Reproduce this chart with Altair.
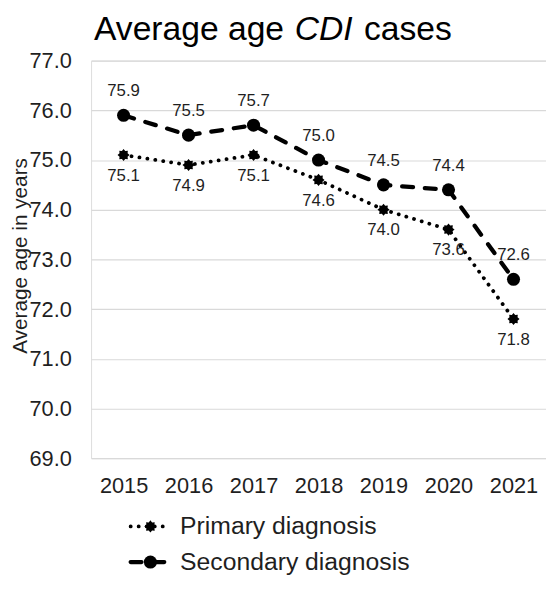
import altair as alt
import pandas as pd
import numpy as np

# ---- data ----
years = ["2015", "2016", "2017", "2018", "2019", "2020", "2021"]
primary = [75.1, 74.9, 75.1, 74.6, 74.0, 73.6, 71.8]
secondary = [75.9, 75.5, 75.7, 75.0, 74.5, 74.4, 72.6]
series_names = ["Primary diagnosis", "Secondary diagnosis"]
y_ticks = [69, 70, 71, 72, 73, 74, 75, 76, 77]
title_parts = ["Average age", "CDI", "cases"]
y_title = "Average age in years"

df = pd.DataFrame({
    "year": years * 2,
    "series": [series_names[0]] * len(years) + [series_names[1]] * len(years),
    "value": primary + secondary,
})
df["label"] = df["value"].map(lambda v: f"{v:.1f}")

FONT = "Liberation Sans"
TXT = "#1f1f1f"

# star-like marker path (unit coordinates)
pts = []
for k in range(16):
    r = 1.0 if k % 2 == 0 else 0.72
    a = np.pi / 2 + k * np.pi / 8
    pts.append(f"{r*np.cos(a):.3f},{-r*np.sin(a):.3f}")
star = "M" + "L".join(pts) + "Z"

W, H = 460, 402

x_enc = alt.X("year:O", sort=years,
              scale=alt.Scale(type="point", domain=years, padding=0.5),
              axis=alt.Axis(title=None, labelAngle=0, labelFontSize=22, labelFont=FONT,
                            labelColor=TXT, ticks=False, tickSize=0, domain=False,
                            grid=False, labelPadding=18))
y_enc = alt.Y("value:Q",
              scale=alt.Scale(domain=[69, 77], nice=False, zero=False),
              axis=alt.Axis(values=y_ticks, format=".1f", title=y_title,
                            titleFontSize=21, titleFontWeight="normal", titleFont=FONT,
                            titleColor=TXT, titleX=-71, titleY=H / 2 - 4, titleAngle=-90,
                            titleAlign="center", titleBaseline="middle",
                            labelFontSize=22, labelFont=FONT, labelColor=TXT,
                            labelPadding=20, ticks=False, tickSize=0, domain=False,
                            grid=True, gridColor="#d9d9d9", gridWidth=1.2))

dash_scale = alt.Scale(domain=series_names, range=[[0.1, 8], [11, 12]])
width_scale = alt.Scale(domain=series_names, range=[3.8, 4.3])
shape_scale = alt.Scale(domain=series_names, range=[star, "circle"])
size_scale = alt.Scale(domain=series_names, range=[150, 175])

base = alt.Chart(df)

lines = base.mark_line(color="black", strokeCap="round", strokeJoin="round").encode(
    x=x_enc, y=y_enc,
    strokeDash=alt.StrokeDash("series:N", scale=dash_scale, legend=None),
    strokeWidth=alt.StrokeWidth("series:N", scale=width_scale, legend=None),
    detail="series:N",
)
points = base.mark_point(filled=True, color="black", opacity=1).encode(
    x=x_enc, y=y_enc,
    shape=alt.Shape("series:N", scale=shape_scale, legend=None),
    size=alt.Size("series:N", scale=size_scale, legend=None),
)
labels_sec = base.transform_filter(alt.datum.series == series_names[1]).mark_text(
    dy=-24, fontSize=17, font=FONT, color=TXT).encode(x=x_enc, y=y_enc, text="label:N")
labels_pri = base.transform_filter(alt.datum.series == series_names[0]).mark_text(
    dy=21, fontSize=17, font=FONT, color=TXT).encode(x=x_enc, y=y_enc, text="label:N")

# title made of three text pieces (middle one italic)
title_x = [3, 206, 276]
title_styles = ["normal", "italic", "normal"]
title_layers = []
for part, tx, st in zip(title_parts, title_x, title_styles):
    title_layers.append(
        alt.Chart(pd.DataFrame({"t": [part]})).mark_text(
            align="left", baseline="alphabetic", fontSize=34, font=FONT,
            fontStyle=st, color="black").encode(
            x=alt.value(tx), y=alt.value(-21), text="t:N")
    )

# legend drawn with marks
legend_df = pd.DataFrame({"series": series_names})
legend_y = [471, 507]
legend_layers = []
for s, ly in zip(series_names, legend_y):
    lb = alt.Chart(legend_df).transform_filter(alt.datum.series == s)
    legend_layers += [
        lb.mark_rule(color="black", strokeCap="round").encode(
            x=alt.value(40), x2=alt.value(80), y=alt.value(ly),
            strokeDash=alt.StrokeDash("series:N", scale=dash_scale, legend=None),
            strokeWidth=alt.StrokeWidth("series:N", scale=width_scale, legend=None)),
        lb.mark_point(filled=True, color="black", opacity=1).encode(
            x=alt.value(60), y=alt.value(ly),
            shape=alt.Shape("series:N", scale=shape_scale, legend=None),
            size=alt.Size("series:N", scale=size_scale, legend=None)),
        lb.mark_text(align="left", baseline="middle", fontSize=25, font=FONT,
                     color=TXT).encode(x=alt.value(90), y=alt.value(ly), text="series:N"),
    ]

chart = alt.layer(lines, points, labels_sec, labels_pri, *title_layers, *legend_layers).properties(
    width=W, height=H,
    autosize=alt.AutoSizeParams(type="none"),
    padding={"left": 84, "top": 50, "right": 0, "bottom": 122},
).configure_view(stroke=None).configure(background="white")

chart.save("out.html", embed_options={"renderer": "svg", "actions": False})
